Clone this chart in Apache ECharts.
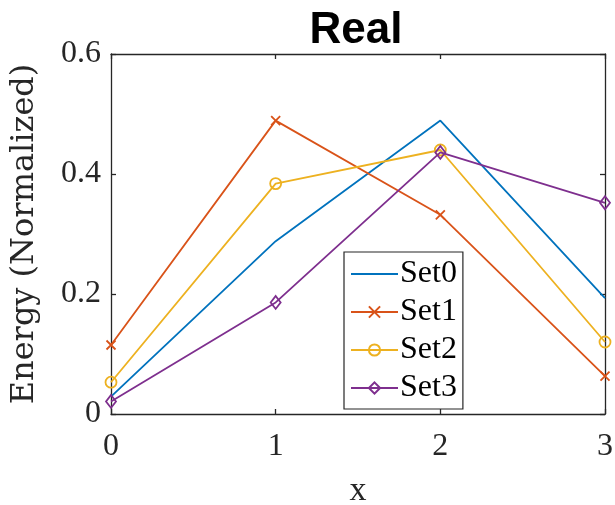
<!DOCTYPE html>
<html><head><meta charset="utf-8">
<script src="https://cdn.jsdelivr.net/npm/echarts@6/dist/echarts.min.js"></script>
<style>html,body{margin:0;padding:0;background:#fff}#c{width:615px;height:505px}</style>
</head><body><div id="c"></div>
<script>
const xCats = [0, 1, 2, 3];
const set0 = [0.029, 0.288, 0.489, 0.193];
const set1 = [0.115, 0.489, 0.332, 0.063];
const set2 = [0.053, 0.384, 0.440, 0.120];
const set3 = [0.021, 0.186, 0.436, 0.352];
const seriesNames = ['Set0', 'Set1', 'Set2', 'Set3'];
const colors = ['#0072BD', '#D95319', '#EDB120', '#7E2F8E'];

const serif = '"Liberation Serif", "DejaVu Serif", serif';
const chart = echarts.init(document.getElementById('c'), null, {renderer: 'canvas'});
const pair = arr => arr.map((v, i) => [xCats[i], v]);
const crossPath = 'path://M0,0L10,10M10,0L0,10';
const symbols = ['none', crossPath, 'circle', 'diamond'];
const sizes = [0, 9, 11, [10, 13]];
const datas = [set0, set1, set2, set3];
const lineIcon = 'path://M0,0L0.01,0L0.01,0.01Z M0,6.1L47,6.1L47,7.9L0,7.9Z M47,14L46.99,14L46.99,13.99Z';

const series = datas.map((d, i) => ({
  name: seriesNames[i],
  type: 'line',
  data: pair(d),
  symbol: symbols[i],
  symbolSize: sizes[i],
  showSymbol: i > 0,
  color: colors[i],
  lineStyle: {color: colors[i], width: 1.8},
  itemStyle: {color: 'rgba(255,255,255,0)', borderColor: colors[i], borderWidth: 1.8},
  emphasis: {disabled: true},
  animation: false,
  z: 2 + i
}));

const axisCommon = {
  axisLine: {show: true, onZero: false, lineStyle: {color: '#262626', width: 1.3}},
  axisTick: {show: true, inside: true, length: 5, lineStyle: {color: '#262626', width: 1.3}},
  splitLine: {show: false}
};

chart.setOption({
  animation: false,
  title: {
    text: 'Real', left: 351, top: 4, textAlign: 'center',
    textStyle: {fontFamily: '"Liberation Sans", Arial, sans-serif', fontWeight: 'bold', fontSize: 44, color: '#000'}
  },
  grid: {left: 111, right: 10, top: 54, bottom: 91, containLabel: false, outerBoundsMode: 'none'},
  legend: {
    data: seriesNames.map((n, i) => (i === 0
      ? {name: n, icon: lineIcon, itemStyle: {color: colors[0], borderWidth: 0}}
      : {name: n})),
    orient: 'vertical',
    left: 344, top: 252,
    padding: [6, 6, 5, 6],
    itemGap: 6,
    itemWidth: 47, itemHeight: 14,
    backgroundColor: '#fff',
    borderColor: '#262626', borderWidth: 1.2, borderRadius: 0,
    textStyle: {fontFamily: serif, fontSize: 32, color: '#000', padding: [0, 0, 0, -3]},
    selectedMode: false
  },
  xAxis: [
    Object.assign({
      type: 'value', min: 0, max: 3, interval: 1, position: 'bottom',
      name: 'x', nameLocation: 'middle', nameGap: 60,
      nameTextStyle: {fontFamily: serif, fontSize: 34, color: '#262626'},
      axisLabel: {fontFamily: serif, fontSize: 32, color: '#262626', margin: 17}
    }, axisCommon),
    Object.assign({
      type: 'value', min: 0, max: 3, interval: 1, position: 'top',
      axisLabel: {show: false}
    }, axisCommon)
  ],
  yAxis: [
    Object.assign({
      type: 'value', min: 0, max: 0.6, interval: 0.2, position: 'left',
      name: 'Energy (Normalized)', nameLocation: 'middle', nameGap: 70,
      nameTextStyle: {fontFamily: '"DejaVu Serif", serif', fontSize: 32, color: '#262626'},
      axisLabel: {fontFamily: serif, fontSize: 32, color: '#262626', margin: 10,
        formatter: v => (v === 0 ? '0' : v.toFixed(1))}
    }, axisCommon),
    Object.assign({
      type: 'value', min: 0, max: 0.6, interval: 0.2, position: 'right',
      axisLabel: {show: false}
    }, axisCommon)
  ],
  series: series
});
</script></body></html>
